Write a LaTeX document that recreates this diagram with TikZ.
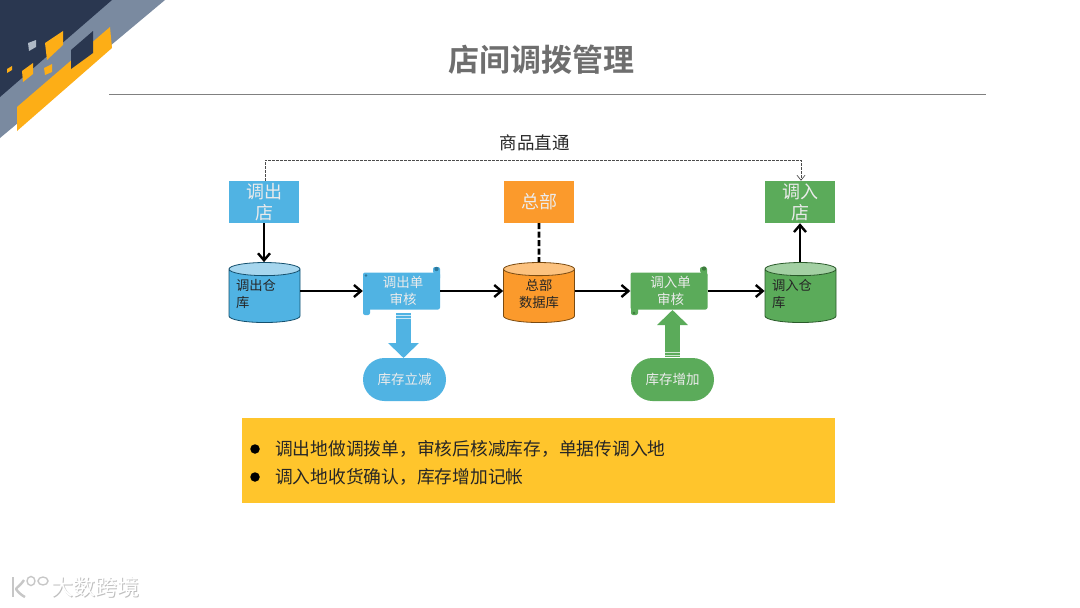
\documentclass[tikz,border=0pt]{standalone}
\usepackage{fontspec}
\setmainfont{Noto Sans CJK SC}
\newfontfamily\titlefont{Noto Sans CJK SC Bold}
\usetikzlibrary{arrows.meta,shapes.geometric,shapes.misc,positioning}
\definecolor{navy}{HTML}{2A3750}
\definecolor{band}{HTML}{7A8AA0}
\definecolor{gold}{HTML}{FDAE16}
\definecolor{cblue}{HTML}{50B3E3}
\definecolor{cblueT}{HTML}{A6D6EE}
\definecolor{cbluedk}{HTML}{14506E}
\definecolor{corange}{HTML}{FB9A2C}
\definecolor{corangeT}{HTML}{FCC27F}
\definecolor{corangedk}{HTML}{7A4A10}
\definecolor{cgreen}{HTML}{5BAB5A}
\definecolor{cgreenT}{HTML}{A3D0A3}
\definecolor{cgreendk}{HTML}{2A5A2A}
\definecolor{panel}{HTML}{FFC52C}
\definecolor{titlegray}{HTML}{6E6E6E}
\newcommand{\fs}[2]{\fontsize{#1}{#2}\selectfont}
\newcommand{\lift}{\rule[-5pt]{0pt}{5pt}}
\tikzset{
 x=1pt,y=-1pt,
 shopbox/.style={rectangle,minimum width=70pt,minimum height=42pt,inner sep=0pt,text=white!92!black,align=center,font=\fs{18}{21}},
 store/.style={cylinder,shape border rotate=90,aspect=0.23,minimum width=71pt,minimum height=60pt,inner sep=0pt,
   cylinder uses custom fill,line width=0.8pt,text width=57pt,align=left,font=\fs{13.3}{17},text=black!85},
 scrollbody/.style={rectangle,rounded corners=2pt,minimum width=77pt,minimum height=37pt,inner sep=0pt,text=white!92!black,align=center,font=\fs{13.5}{17}},
 pill/.style={rounded rectangle,minimum width=83pt,minimum height=43pt,inner sep=0pt,text=white!92!black,font=\fs{13.5}{17}},
 flow/.style={draw=black,line width=2.6pt,-{Straight Barb[length=7pt,width=12pt,line width=2.4pt]}},
 block/.style={line width=14.5pt,-{Triangle[length=15pt,width=30pt]}},
}
\begin{document}
\begin{tikzpicture}
\useasboundingbox (0,0) rectangle (1080,608);
\fill[white] (0,0) rectangle (1080,608);
% corner decoration
\fill[band] (0,0) -- (165,0) -- (0,138) -- cycle;
\fill[navy] (0,0) -- (112,0) -- (0,97) -- cycle;
\fill[gold] (17,107) -- (110,27) -- (112,48) -- (17,131) -- cycle;
\fill[navy] (71,50) -- (93,31) -- (93,53) -- (71,69) -- cycle;
\fill[gold] (45,43) -- (63,31) -- (63,45) -- (47,60) -- cycle;
\fill[gold] (22,71) -- (33,63) -- (33,74) -- (23,82) -- cycle;
\fill[gold] (44,68) -- (52,64) -- (52,72) -- (45,75) -- cycle;
\fill[gold] (7,69) -- (12,66) -- (12,70) -- (7,73) -- cycle;
\fill[band!60!white] (28,43) -- (36,40) -- (36,47) -- (29,51) -- cycle;
% title
\node[font=\titlefont\fs{31}{36},text=titlegray] (title) at (541.5,60) {店间调拨管理};
\coordinate (ruleL) at (109,94);
\coordinate (ruleR) at (986,94);
\draw[black!50,line width=1pt] (ruleL) -- (ruleR);
% boxes
\node[shopbox,fill=cblue] (outshop) at (264,202) {调出\\店};
\node[shopbox,fill=corange] (hq) at (539,202) {总部};
\node[shopbox,fill=cgreen] (inshop) at (800,202) {调入\\店};
% cylinders
\node[store,draw=cbluedk,cylinder body fill=cblue,cylinder end fill=cblueT] (outstore) at (264.5,296) {调出仓\\库\lift};
\node[store,draw=corangedk,cylinder body fill=corange,cylinder end fill=corangeT,align=center] (hqdb) at (539,296) {总部\\数据库\lift};
\node[store,draw=cgreendk,cylinder body fill=cgreen,cylinder end fill=cgreenT] (instore) at (800.5,296) {调入仓\\库\lift};
% scrolls
\fill[cblue,rounded corners=2pt] (433,273.5) -- (433,267) -- (440,267) -- (440,280) -- cycle;
\fill[cblue,rounded corners=2pt] (363,300) -- (363,315) -- (370,315) -- (370,305) -- cycle;
\node[scrollbody,fill=cblue] (outbill) at (401.5,291) {\hspace*{3pt}调出单\\\hspace*{3pt}审核};
\fill[cbluedk!60!cblue] (436.5,269) circle (2.2pt);
\fill[cbluedk!60!cblue] (366,275.5) circle (1.3pt);
\fill[cgreen,rounded corners=2pt] (700,273) -- (700,267) -- (707,267) -- (707,278) -- cycle;
\fill[cgreen,rounded corners=2pt] (631,296) -- (631,315) -- (638,315) -- (638,304) -- cycle;
\node[scrollbody,fill=cgreen] (inbill) at (669,291) {\hspace*{3pt}调入单\\\hspace*{3pt}审核};
\fill[cgreendk!60!cgreen] (704,268.5) circle (2.2pt);
\fill[cgreendk!60!cgreen] (634,313) circle (1.3pt);
% pills
\node[pill,fill=cblue] (minus) at (404.5,379.5) {库存立减};
\node[pill,fill=cgreen] (plus) at (672.5,379.5) {库存增加};
% flows
\draw[flow] (outshop) -- (outstore.north -| outshop);
\draw[flow] (outstore.east |- outbill) -- (outbill);
\draw[flow] (outbill.east) -- (hqdb.west |- outbill);
\draw[flow] (hqdb.east |- inbill) -- (inbill.west);
\draw[flow] (inbill.east) -- (instore.west |- inbill);
\draw[flow] (instore.north -| inshop) -- (inshop.south);
\draw[black,line width=2.6pt,dash pattern=on 6pt off 2.5pt] (hq.south) -- (hqdb.north);
% block arrows
\coordinate (outtail) at (403.5,313);
\coordinate (outtip) at (403.5,358);
\draw[block,cblue] (outtail) -- (outtip);
\coordinate (intail) at (672.5,357);
\coordinate (intip) at (672.5,310);
\draw[block,cgreen] (intail) -- (intip);
\draw[white!70!cblue,line width=0.9pt] (396.2,315.5) -- (410.8,315.5);
\draw[white!70!cblue,line width=0.9pt] (396.2,318) -- (410.8,318);
\draw[white!70!cgreen,line width=0.9pt] (665.2,352) -- (679.8,352);
\draw[white!70!cgreen,line width=0.9pt] (665.2,355) -- (679.8,355);
% direct
\coordinate (bendL) at (265,160);
\coordinate (bendR) at (801,160);
\draw[black!70,line width=0.9pt,dash pattern=on 2.5pt off 1.5pt,-{Straight Barb[length=5pt,width=8pt,line width=0.7pt]}] (outshop.north -| bendL) -- (bendL) -- (bendR) -- (inshop.north -| bendR);
\node[font=\fs{17.5}{20},text=black!85] (direct) at (534.5,143) {商品直通};
% panel
\node[rectangle,fill=panel,minimum width=593pt,minimum height=85pt,inner sep=0pt] (panelbox) at (538.5,460.5) {};
\node[circle,fill=black,minimum size=9.5pt,inner sep=0pt] (b1) at (255,449) {};
\node[circle,fill=black,minimum size=9.5pt,inner sep=0pt] (b2) at (255,477) {};
\node[anchor=west,inner sep=0pt,font=\fs{17.75}{20},text=black!85] (t1) at (275,449) {调出地做调拨单，审核后核减库存，单据传调入地};
\node[anchor=west,inner sep=0pt,font=\fs{17.75}{20},text=black!85] (t2) at (275,477) {调入地收货确认，库存增加记帐};
% watermark
\draw[black!22,line width=2.4pt] (13,577) -- (13,597);
\draw[black!22,line width=2.4pt,line join=round] (24,580) .. controls (20,586) and (17,587) .. (16,589) .. controls (18,592) and (21,595) .. (25,597);
\draw[black!22,line width=1.4pt] (31,581) ellipse (4pt and 4.5pt);
\draw[black!22,line width=1.4pt] (43,581) ellipse (5pt and 4pt);
\node[font=\fs{22}{24},text=black!25,inner sep=0pt] (markshadow) at (96.2,588.2) {大数跨境};
\node[font=\fs{22}{24},text=white,inner sep=0pt] (mark) at (95.5,587.5) {大数跨境};
\end{tikzpicture}
\end{document}
